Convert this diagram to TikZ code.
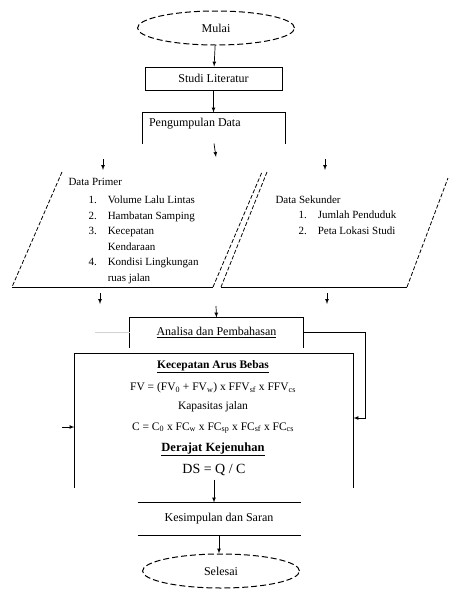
\documentclass[tikz,border=0pt]{standalone}
\usepackage{fontspec}
\setmainfont{Liberation Serif}
\usetikzlibrary{shapes,arrows,positioning,calc}

\begin{document}
\begin{tikzpicture}[x=1pt, y=-1pt, >=latex, line width=1pt,
    terminal/.style={ellipse, draw, dash pattern=on 6pt off 3pt, minimum width=157pt, minimum height=34pt, font=\fontsize{12}{14}\selectfont},
    stepbox/.style={rectangle, draw, minimum width=137pt, minimum height=23pt, font=\fontsize{12}{14}\selectfont},
    openbox/.style={rectangle, inner sep=0pt, font=\fontsize{12}{14}\selectfont},
    listtxt/.style={inner sep=0pt, align=left, font=\fontsize{11}{15.5}\selectfont},
    formula/.style={font=\fontsize{11.5}{14}\selectfont},
    arrow/.style={->, line width=0.7pt},
    slant/.style={dash pattern=on 4pt off 2pt, line width=0.8pt}
]
    \useasboundingbox (0,0) rectangle (448,590);

    % start
    \node[terminal] (mulai) at (216,28) {Mulai};
    \node[stepbox] (studi) at (213.5,78.5) {Studi Literatur};
    \draw[arrow] (mulai) -- (studi);

    % data collection (open box)
    \node[openbox, minimum width=142pt, minimum height=30pt] (kumpul) at (214,128) {};
    \draw (kumpul.south west) -- (kumpul.north west) -- (kumpul.north east) -- (kumpul.south east);
    \node[openbox, anchor=north west] (kumpultxt) at ($(kumpul.north west)+(6,5)$) {Pengumpulan Data};
    \draw[arrow] (studi.south) -- (studi.south |- kumpul.north);
    \coordinate (split) at (216,157);
    \draw[arrow] (kumpul.south) -- (split);

    % primary data
    \coordinate (pA) at (62,172);
    \coordinate (pB) at (12,287);
    \coordinate (pC) at (213,287);
    \coordinate (pD) at (262,172);
    \draw[slant] (pA) -- (pB);
    \draw (pB) -- (pC);
    \draw[slant] (pC) -- (pD);
    \coordinate (primin) at (103,159);
    \coordinate (primtop) at (103,170);
    \draw[arrow] (primin) -- (primtop);
    \node[listtxt, anchor=west] (primer) at (68,182) {Data Primer};
    \node[listtxt, anchor=base west] (primerlist) at (88,203.5) {%
        \begin{tabular}[t]{@{}l@{\hspace{11pt}}l@{}}
        1. & Volume Lalu Lintas\\
        2. & Hambatan Samping\\
        3. & Kecepatan\\
           & Kendaraan\\
        4. & Kondisi Lingkungan\\
           & ruas jalan
        \end{tabular}};

    % secondary data
    \coordinate (sA) at (267,172);
    \coordinate (sB) at (221,287);
    \coordinate (sC) at (407,287);
    \coordinate (sD) at (448,178);
    \draw[slant] (sA) -- (sB);
    \draw (sB) -- (sC);
    \draw[slant] (sC) -- (sD);
    \coordinate (sekin) at (325,159);
    \coordinate (sektop) at (325,170);
    \draw[arrow] (sekin) -- (sektop);
    \node[listtxt, anchor=west] (sekunder) at (275,200) {Data Sekunder};
    \node[listtxt, anchor=base west] (sekunderlist) at (298,218.5) {%
        \begin{tabular}[t]{@{}l@{\hspace{11pt}}l@{}}
        1. & Jumlah Penduduk\\
        2. & Peta Lokasi Studi
        \end{tabular}};

    \coordinate (primout) at (100,293);
    \coordinate (primend) at (100,304);
    \draw[arrow] (primout) -- (primend);
    \coordinate (sekout) at (327,293);
    \coordinate (sekend) at (327,304);
    \draw[arrow] (sekout) -- (sekend);

    % analysis
    \node[openbox, minimum width=173pt, minimum height=29pt] (analisa) at (216.5,332.5) {\underline{Analisa dan Pembahasan}};
    \draw (analisa.south west) -- (analisa.north west) -- (analisa.north east) -- (analisa.south east);
    \coordinate (merge) at (216,306);
    \draw[arrow] (merge) -- (analisa.north);
    \coordinate (gline) at (95,332.5);
    \draw[gray!35, line width=0.5pt] (gline) -- (analisa.west);

    % results box
    \node[openbox, minimum width=278pt, minimum height=133pt] (hasil) at (214,420.5) {};
    \draw (hasil.south west) -- (hasil.north west) -- (hasil.north east) -- (hasil.south east);
    \node[formula, font=\fontsize{11.5}{14}\selectfont\bfseries] (judul1) at (213,367) {\underline{Kecepatan Arus Bebas}};
    \node[formula] (rumus1) at (213,388) {FV = (FV\textsubscript{0} + FV\textsubscript{w}) x FFV\textsubscript{sf} x FFV\textsubscript{cs}};
    \node[formula] (judul2) at (213,407) {Kapasitas jalan};
    \node[formula] (rumus2) at (213,428) {C = C\textsubscript{0} x FC\textsubscript{w} x FC\textsubscript{sp} x FC\textsubscript{sf} x FC\textsubscript{cs}};
    \node[formula, font=\fontsize{12.5}{14}\selectfont\bfseries] (judul3) at (213,449) {\underline{Derajat Kejenuhan}};
    \node[formula, font=\fontsize{14}{16}\selectfont] (rumus3) at (214,470) {DS = Q / C};

    \coordinate (rbend) at (365,418);
    \draw[arrow] (analisa.east) -| (rbend) -- (rbend -| hasil.east);
    \coordinate (lin) at (62,427);
    \draw[arrow] (lin) -- (lin -| hasil.west);

    % conclusion
    \node[openbox, minimum width=162pt, minimum height=32pt] (simpul) at (219,519) {Kesimpulan dan Saran};
    \draw (simpul.north west) -- (simpul.north east);
    \draw (simpul.south west) -- (simpul.south east);
    \draw[arrow] (rumus3.south) -- (rumus3.south |- simpul.north);

    % end
    \node[terminal] (selesai) at (221,571) {Selesai};
    \draw[arrow] (simpul.south) -- (simpul.south |- selesai.north);
\end{tikzpicture}
\end{document}
